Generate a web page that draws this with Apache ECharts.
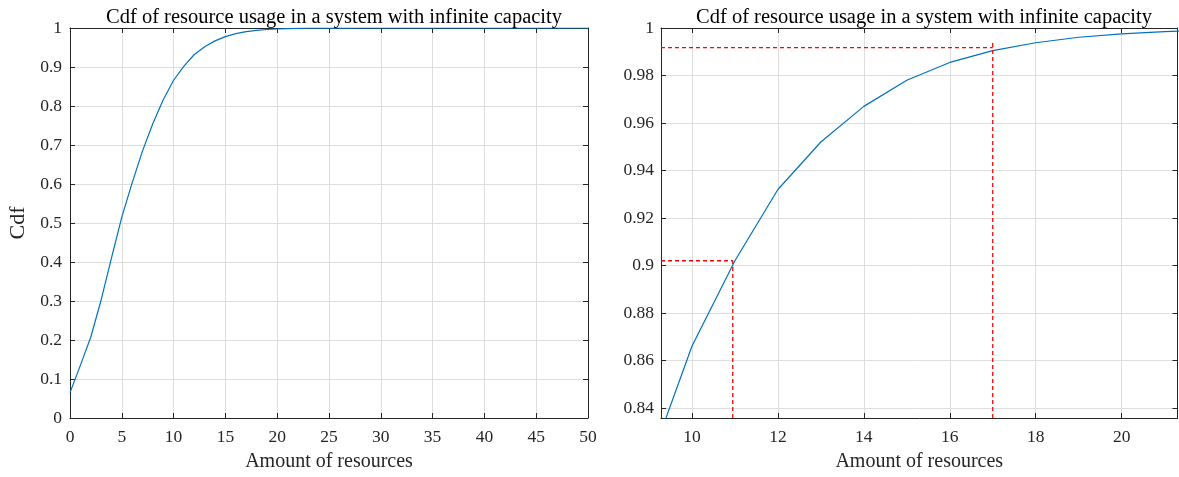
<!DOCTYPE html>
<html><head><meta charset="utf-8">
<script src="https://cdn.jsdelivr.net/npm/echarts@6/dist/echarts.min.js"></script>
<style>html,body{margin:0;padding:0;background:#fff}#c{width:1179px;height:477px}</style>
</head><body><div id="c"></div>
<script>
const titleText = 'Cdf of resource usage in a system with infinite capacity';
const xAxisName = 'Amount of resources';
const yAxisName = 'Cdf';
const resources = [0,1,2,3,4,5,6,7,8,9,10,11,12,13,14,15,16,17,18,19,20,21,22,23,24,25,26,27,28,29,30,31,32,33,34,35,36,37,38,39,40,41,42,43,44,45,46,47,48,49,50];
const cdfValues = [0.065,0.135,0.207,0.302,0.410,0.515,0.603,0.685,0.755,0.816,0.866,0.902,0.932,0.952,0.967,0.978,0.9855,0.9905,0.9938,0.9961,0.9975,0.9985,0.9991,0.9995,0.9997,0.9998,0.9999,0.9999,1,1,1,1,1,1,1,1,1,1,1,1,1,1,1,1,1,1,1,1,1,1,1];
// zoomed panel window
const zoomX = [9.28, 21.3];
const zoomY = [0.8358, 1];
// red dashed guide lines: x position, horizontal level, top of vertical line
const guideX = [10.95, 17];
const guideLevel = [0.902, 0.9917];
const guideTop = [0.902, 0.9943];

const pts = resources.map((x, i) => [x, cdfValues[i]]);
const ink = '#262626';
const gridCol = '#dedede';
const font = 'Liberation Serif';
const tickFont = 17.5;
const fmt = v => String(+v.toFixed(2));

function axisBase(extra) {
  return Object.assign({
    type: 'value',
    axisLine: { show: true, onZero: false, lineStyle: { color: ink, width: 1 } },
    axisTick: { show: true, inside: true, length: 5, lineStyle: { color: ink } },
    splitLine: { show: true, lineStyle: { color: gridCol, width: 1 } },
    axisLabel: { color: ink, fontFamily: font, fontSize: tickFont }
  }, extra);
}
function boxAxis(extra) {
  return Object.assign({
    type: 'value',
    axisLine: { show: true, onZero: false, lineStyle: { color: ink, width: 1 } },
    axisTick: { show: true, inside: true, length: 5, lineStyle: { color: ink } },
    splitLine: { show: false },
    axisLabel: { show: false }
  }, extra);
}

const dashStyle = { color: '#ff0000', width: 1.3, type: [4, 3] };
const guideSeries = [];
for (let i = 0; i < guideX.length; i++) {
  guideSeries.push({
    type: 'line', xAxisIndex: 2, yAxisIndex: 2, symbol: 'none', silent: true,
    lineStyle: dashStyle, data: [[zoomX[0], guideLevel[i]], [guideX[i], guideLevel[i]]]
  });
  guideSeries.push({
    type: 'line', xAxisIndex: 2, yAxisIndex: 2, symbol: 'none', silent: true,
    lineStyle: dashStyle, data: [[guideX[i], zoomY[0]], [guideX[i], guideTop[i]]]
  });
}

const titleStyle = { fontFamily: font, fontSize: 20.5, fontWeight: 'normal', color: '#000' };
const nameStyle = { fontFamily: font, fontSize: 20, color: ink };

const chart = echarts.init(document.getElementById('c'), null, { renderer: 'canvas' });
chart.setOption({
  animation: false,
  backgroundColor: '#fff',
  title: [
    { text: titleText, left: 329, top: 2, textAlign: 'center', textStyle: titleStyle },
    { text: titleText, left: 919, top: 2, textAlign: 'center', textStyle: titleStyle }
  ],
  grid: [
    { left: 70, right: 591, top: 28, bottom: 57 },
    { left: 661, right: 1.5, top: 28, bottom: 57 }
  ],
  xAxis: [
    axisBase({ gridIndex: 0, min: 0, max: 50, interval: 5, position: 'bottom',
      name: xAxisName, nameLocation: 'middle', nameGap: 34, nameTextStyle: nameStyle,
      axisLabel: { color: ink, fontFamily: font, fontSize: tickFont, margin: 10 } }),
    boxAxis({ gridIndex: 0, min: 0, max: 50, interval: 5, position: 'top' }),
    axisBase({ gridIndex: 1, min: zoomX[0], max: zoomX[1], splitNumber: 6, position: 'bottom',
      name: xAxisName, nameLocation: 'middle', nameGap: 34, nameTextStyle: nameStyle,
      axisLabel: { color: ink, fontFamily: font, fontSize: tickFont, margin: 10, showMinLabel: false, showMaxLabel: false } }),
    boxAxis({ gridIndex: 1, min: zoomX[0], max: zoomX[1], splitNumber: 6, position: 'top' })
  ],
  yAxis: [
    axisBase({ gridIndex: 0, min: 0, max: 1, interval: 0.1, position: 'left',
      name: yAxisName, nameLocation: 'middle', nameGap: 41,
      nameTextStyle: { fontFamily: font, fontSize: 22, color: ink },
      axisLabel: { color: ink, fontFamily: font, fontSize: tickFont, margin: 8, formatter: fmt } }),
    boxAxis({ gridIndex: 0, min: 0, max: 1, interval: 0.1, position: 'right' }),
    axisBase({ gridIndex: 1, min: zoomY[0], max: zoomY[1], splitNumber: 8, position: 'left',
      axisLabel: { color: ink, fontFamily: font, fontSize: tickFont, margin: 7, formatter: fmt, showMinLabel: false } }),
    boxAxis({ gridIndex: 1, min: zoomY[0], max: zoomY[1], splitNumber: 8, position: 'right' })
  ],
  series: [
    { type: 'line', xAxisIndex: 0, yAxisIndex: 0, symbol: 'none', silent: true,
      lineStyle: { color: '#0072bd', width: 1.2 }, data: pts },
    { type: 'line', xAxisIndex: 2, yAxisIndex: 2, symbol: 'none', silent: true, clip: true,
      lineStyle: { color: '#0072bd', width: 1.2 }, data: pts }
  ].concat(guideSeries)
});
</script>
</body></html>
